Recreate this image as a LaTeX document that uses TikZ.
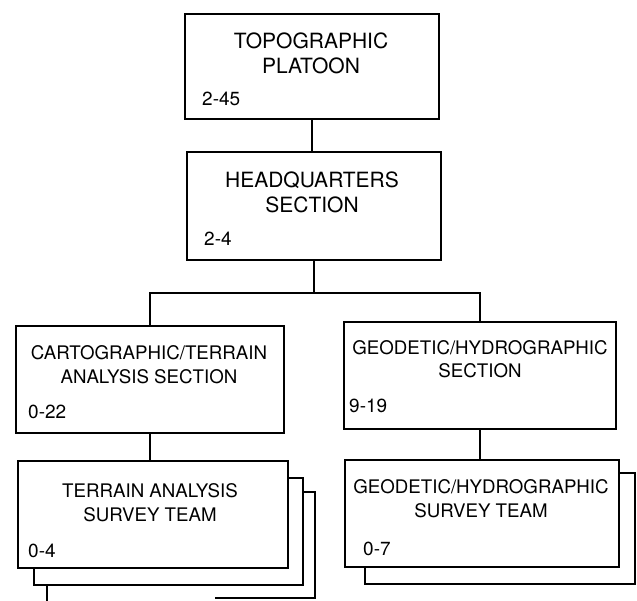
\documentclass[tikz,border=0pt]{standalone}
\usepackage{fontspec}
\setmainfont{TeX Gyre Heros}
\begin{document}
\begin{tikzpicture}[x=1pt,y=-1pt,
  orgbox/.style={draw, fill=white, line width=1.9pt, rectangle, inner sep=0pt, anchor=north west},
  bigtitle/.style={font=\fontsize{21}{25}\selectfont, anchor=base, inner sep=0pt},
  title/.style={font=\fontsize{18.7}{25}\selectfont, anchor=base, inner sep=0pt},
  strength/.style={font=\fontsize{19}{22}\selectfont, anchor=base west, inner sep=0pt},
  link/.style={line width=1.9pt, line cap=rect}]
\useasboundingbox (0,0) rectangle (637,600);

% ---- platoon and headquarters ----
\node[orgbox, minimum width=254pt, minimum height=105pt] (plt) at (184,13) {};
\node[bigtitle] (plt-a) at (311,48) {TOPOGRAPHIC};
\node[bigtitle] (plt-b) at (311,73) {PLATOON};
\node[strength] (plt-n) at (202,105) {2-45};

\node[orgbox, minimum width=254pt, minimum height=108pt] (hq) at (186,151) {};
\node[bigtitle] (hq-a) at (312,187) {HEADQUARTERS};
\node[bigtitle] (hq-b) at (312,212) {SECTION};
\node[strength] (hq-n) at (204,245) {2-4};

% ---- sections ----
\node[orgbox, minimum width=268pt, minimum height=107pt] (cart) at (15,325) {};
\node[title] (cart-a) at (149,359) {CARTOGRAPHIC/TERRAIN};
\node[title] (cart-b) at (149,383) {ANALYSIS SECTION};
\node[strength] (cart-n) at (28,418) {0-22};

\node[orgbox, minimum width=272pt, minimum height=107pt] (geo) at (343,321) {};
\node[title] (geo-a) at (480,354) {GEODETIC/HYDROGRAPHIC};
\node[title] (geo-b) at (480,377) {SECTION};
\node[strength] (geo-n) at (349,412) {9-19};

% ---- stacked survey teams (left) ----
\fill[white] (47,492) rectangle (315,600);
\draw[link, line cap=butt] (47,601) -- (47,492) -- (315,492) -- (315,598) -- (215,598);
\node[orgbox, minimum width=269pt, minimum height=107pt] (ta2) at (33,477) {};
\node[orgbox, minimum width=270pt, minimum height=107pt] (ta) at (17,460) {};
\node[title] (ta-a) at (150,497) {TERRAIN ANALYSIS};
\node[title] (ta-b) at (150,521) {SURVEY TEAM};
\node[strength] (ta-n) at (28,557) {0-4};

% ---- stacked survey teams (right) ----
\node[orgbox, minimum width=270pt, minimum height=111pt] (gt2) at (364,472) {};
\node[orgbox, minimum width=274pt, minimum height=107pt] (gt) at (344,459) {};
\node[title] (gt-a) at (481,493) {GEODETIC/HYDROGRAPHIC};
\node[title] (gt-b) at (481,517) {SURVEY TEAM};
\node[strength] (gt-n) at (363,555) {0-7};

% ---- connectors ----
\draw[link] (plt.south) -- (plt.south |- hq.north);
\draw[link] (hq.south) -- ++(0,32) coordinate (bus);
\draw[link] (cart.north) |- (bus) -| (geo.north);
\draw[link] (cart.south) -- (cart.south |- ta.north);
\draw[link] (geo.south) -- (geo.south |- gt.north);
\end{tikzpicture}
\end{document}
